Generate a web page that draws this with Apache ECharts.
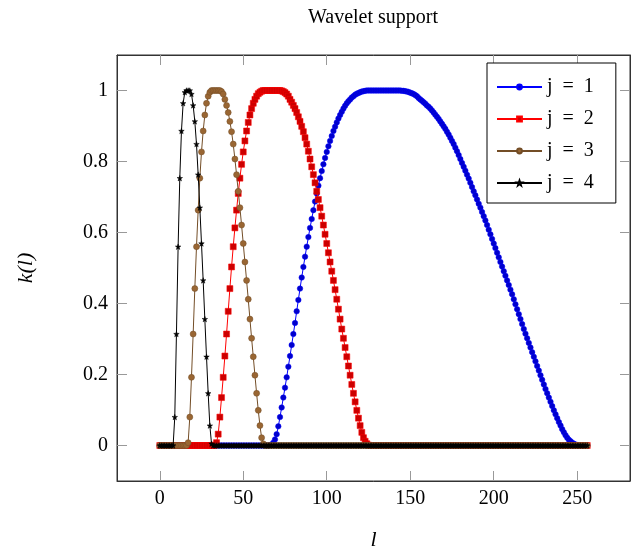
<!DOCTYPE html>
<html>
<head>
<meta charset="utf-8">
<script src="https://cdn.jsdelivr.net/npm/echarts@6/dist/echarts.min.js"></script>
<style>
  html, body { margin: 0; padding: 0; background: #fff; }
  #chart { width: 642px; height: 548px; }
</style>
</head>
<body>
<div id="chart"></div>
<script>
// k(l) for l = 0 .. 256 (array index is l)
var k1 = [
  0,0,0,0,0,0,0,0,0,0,0,0,0,0,0,0,
  0,0,0,0,0,0,0,0,0,0,0,0,0,0,0,0,
  0,0,0,0,0,0,0,0,0,0,0,0,0,0,0,0,
  0,0,0,0,0,0,0,0,0,0,0,0,0,0,0,0,
  0,0,0.001,0.003,0.008,0.017,0.032,0.054,0.08,0.107,
  0.135,0.163,0.192,0.222,0.252,0.283,0.314,0.345,0.378,0.41,
  0.442,0.473,0.503,0.532,0.56,0.587,0.613,0.638,0.663,0.687,
  0.71,0.732,0.753,0.773,0.792,0.81,0.827,0.843,0.858,0.872,
  0.886,0.898,0.91,0.921,0.931,0.94,0.949,0.957,0.964,0.97,
  0.975,0.98,0.984,0.988,0.991,0.993,0.995,0.997,0.998,0.999,
  1,1,1,1,1,1,1,1,1,1,1,1,1,1,1,1,1,1,1,1,1,
  0.999,0.999,0.998,0.997,0.996,0.994,0.992,0.99,0.987,0.984,
  0.979,0.975,0.971,0.967,0.963,0.958,0.954,0.949,0.944,0.938,
  0.932,0.926,0.92,0.913,0.906,0.899,0.892,0.884,0.876,0.867,
  0.858,0.849,0.839,0.829,0.818,0.807,0.796,0.785,0.774,0.763,
  0.752,0.74,0.728,0.716,0.705,0.693,0.681,0.67,0.658,0.646,
  0.634,0.621,0.608,0.595,0.582,0.569,0.556,0.543,0.53,0.517,
  0.504,0.491,0.478,0.465,0.452,0.439,0.426,0.412,0.398,0.384,
  0.37,0.356,0.342,0.328,0.315,0.302,0.289,0.276,0.263,0.25,
  0.237,0.224,0.211,0.198,0.185,0.172,0.159,0.147,0.135,0.123,
  0.111,0.099,0.088,0.077,0.066,0.056,0.046,0.037,0.029,0.022,
  0.016,0.012,0.008,0.005,0.003,0.001,
  0,0,0,0,0,0
];
var k2 = [
  0,0,0,0,0,0,0,0,0,0,0,0,0,0,0,0,
  0,0,0,0,0,0,0,0,0,0,0,0,0,0,0,0,
  0,0.001,0.008,0.032,0.08,0.135,0.192,0.252,0.314,0.378,
  0.442,0.503,0.56,0.613,0.663,0.71,0.753,0.792,0.827,0.858,
  0.886,0.91,0.931,0.949,0.964,0.975,0.984,0.991,0.995,0.998,
  1,1,1,1,1,1,1,1,1,1,1,
  0.999,0.997,0.994,0.99,0.984,0.975,0.967,0.958,0.949,0.938,
  0.926,0.913,0.899,0.884,0.867,0.849,0.829,0.807,0.785,0.763,
  0.74,0.716,0.693,0.67,0.646,0.621,0.595,0.569,0.543,0.517,
  0.491,0.465,0.439,0.412,0.384,0.356,0.328,0.302,0.276,0.25,
  0.224,0.198,0.172,0.147,0.123,0.099,0.077,0.056,0.037,0.022,
  0.012,0.005,0.001,
  0,0,0,0,0,0,0,0,0,0,0,0,0,0,0,0,
  0,0,0,0,0,0,0,0,0,0,0,0,0,0,0,0,
  0,0,0,0,0,0,0,0,0,0,0,0,0,0,0,0,
  0,0,0,0,0,0,0,0,0,0,0,0,0,0,0,0,
  0,0,0,0,0,0,0,0,0,0,0,0,0,0,0,0,
  0,0,0,0,0,0,0,0,0,0,0,0,0,0,0,0,
  0,0,0,0,0,0,0,0,0,0,0,0,0,0,0,0,
  0,0,0,0,0,0,0,0,0,0,0,0,0,0,0,0,
  0,0,0
];
var k3 = [
  0,0,0,0,0,0,0,0,0,0,0,0,0,0,0,0,
  0,0.008,0.08,0.192,0.314,0.442,0.56,0.663,0.753,0.827,
  0.886,0.931,0.964,0.984,0.995,1,1,1,1,1,
  1,0.997,0.99,0.975,0.958,0.938,0.913,0.884,0.849,0.807,
  0.763,0.716,0.67,0.621,0.569,0.517,0.465,0.412,0.356,0.302,
  0.25,0.198,0.147,0.099,0.056,0.022,0.005,
  0,0,0,0,0,0,0,0,0,0,0,0,0,0,0,0,
  0,0,0,0,0,0,0,0,0,0,0,0,0,0,0,0,
  0,0,0,0,0,0,0,0,0,0,0,0,0,0,0,0,
  0,0,0,0,0,0,0,0,0,0,0,0,0,0,0,0,
  0,0,0,0,0,0,0,0,0,0,0,0,0,0,0,0,
  0,0,0,0,0,0,0,0,0,0,0,0,0,0,0,0,
  0,0,0,0,0,0,0,0,0,0,0,0,0,0,0,0,
  0,0,0,0,0,0,0,0,0,0,0,0,0,0,0,0,
  0,0,0,0,0,0,0,0,0,0,0,0,0,0,0,0,
  0,0,0,0,0,0,0,0,0,0,0,0,0,0,0,0,
  0,0,0,0,0,0,0,0,0,0,0,0,0,0,0,0,
  0,0,0,0,0,0,0,0,0,0,0,0,0,0,0,0,
  0,0
];
var k4 = [
  0,0,0,0,0,0,0,0,0,
  0.08,0.314,0.56,0.753,0.886,0.964,0.995,1,1,1,
  0.99,0.958,0.913,0.849,0.763,0.67,0.569,0.465,0.356,0.25,
  0.147,0.056,0.005,
  0,0,0,0,0,0,0,0,0,0,0,0,0,0,0,0,
  0,0,0,0,0,0,0,0,0,0,0,0,0,0,0,0,
  0,0,0,0,0,0,0,0,0,0,0,0,0,0,0,0,
  0,0,0,0,0,0,0,0,0,0,0,0,0,0,0,0,
  0,0,0,0,0,0,0,0,0,0,0,0,0,0,0,0,
  0,0,0,0,0,0,0,0,0,0,0,0,0,0,0,0,
  0,0,0,0,0,0,0,0,0,0,0,0,0,0,0,0,
  0,0,0,0,0,0,0,0,0,0,0,0,0,0,0,0,
  0,0,0,0,0,0,0,0,0,0,0,0,0,0,0,0,
  0,0,0,0,0,0,0,0,0,0,0,0,0,0,0,0,
  0,0,0,0,0,0,0,0,0,0,0,0,0,0,0,0,
  0,0,0,0,0,0,0,0,0,0,0,0,0,0,0,0,
  0,0,0,0,0,0,0,0,0,0,0,0,0,0,0,0,
  0,0,0,0,0,0,0,0,0,0,0,0,0,0,0,0,
  0
];
var names = ["j = 1", "j = 2", "j = 3", "j = 4"];
var xTicks = [0, 50, 100, 150, 200, 250];
var yTicks = [0, 0.2, 0.4, 0.6, 0.8, 1];

var serif = "Liberation Serif";
var star = "path://M0,-10L2.35,-3.24L9.51,-3.09L3.8,1.24L5.88,8.09L0,4L-5.88,8.09L-3.8,1.24L-9.51,-3.09L-2.35,-3.24Z";

function pairs(arr) {
  return arr.map(function (v, i) { return [i, v]; });
}

var styles = [
  { line: "#0000ff", fill: "#0000cc", symbol: "circle", size: 5.5 },
  { line: "#ff0000", fill: "#cc0000", symbol: "rect", size: 6 },
  { line: "#734d26", fill: "#996633", symbol: "circle", size: 6 },
  { line: "#000000", fill: "#000000", symbol: star, size: 5.5 }
];
var values = [k1, k2, k3, k4];

var tickStyle = { show: true, inside: true, length: 10, lineStyle: { color: "#999", width: 1 } };
var edge = { show: true, onZero: false, lineStyle: { color: "#333", width: 1 } };

var chart = echarts.init(document.getElementById("chart"));
chart.setOption({
  animation: false,
  graphic: [{
    type: "text", x: 373, y: 8,
    style: { text: "Wavelet support", font: "20px " + serif, fill: "#000", textAlign: "center" }
  }],
  legend: {
    data: names,
    orient: "vertical",
    left: 487, top: 63,
    padding: [14, 22, 10, 9],
    itemWidth: 45, itemHeight: 6, itemGap: 12,
    borderColor: "#000", borderWidth: 1, backgroundColor: "#fff",
    textStyle: { fontFamily: serif, fontSize: 20, color: "#000" },
    formatter: function (n) { return n.replace(/ /g, "\u2002"); }
  },
  grid: {
    left: 117, right: 12, top: 55, bottom: 67,
    outerBoundsMode: "none", containLabel: false,
    show: true, borderColor: "#333", borderWidth: 1
  },
  xAxis: [{
    type: "value", min: -25.6, max: 281.6,
    name: "l", nameLocation: "middle", nameGap: 48,
    nameTextStyle: { fontFamily: serif, fontStyle: "italic", fontSize: 22, color: "#000" },
    axisLine: edge,
    axisTick: Object.assign({ customValues: xTicks }, tickStyle),
    axisLabel: { customValues: xTicks, margin: 8, fontFamily: serif, fontSize: 20, color: "#000" },
    splitLine: { show: false }
  }, {
    type: "value", min: -25.6, max: 281.6, position: "top",
    axisLine: edge,
    axisTick: Object.assign({ customValues: xTicks }, tickStyle),
    axisLabel: { show: false }, splitLine: { show: false }
  }],
  yAxis: [{
    type: "value", min: -0.1, max: 1.1,
    name: "k(l)", nameLocation: "middle", nameGap: 80, nameRotate: 90,
    nameTextStyle: { fontFamily: serif, fontStyle: "italic", fontSize: 22, color: "#000" },
    axisLine: edge,
    axisTick: Object.assign({ customValues: yTicks }, tickStyle),
    axisLabel: { customValues: yTicks, margin: 9, fontFamily: serif, fontSize: 20, color: "#000" },
    splitLine: { show: false }
  }, {
    type: "value", min: -0.1, max: 1.1, position: "right",
    axisLine: edge,
    axisTick: Object.assign({ customValues: yTicks }, tickStyle),
    axisLabel: { show: false }, splitLine: { show: false }
  }],
  series: values.map(function (arr, i) {
    var s = styles[i];
    return {
      name: names[i], type: "line", data: pairs(arr),
      xAxisIndex: 0, yAxisIndex: 0,
      symbol: s.symbol, symbolSize: s.size, showAllSymbol: true,
      lineStyle: { color: s.line, width: 1 },
      itemStyle: { color: s.fill, borderColor: s.line, borderWidth: 0.5, opacity: 1 },
      emphasis: { disabled: true },
      z: 2 + i
    };
  })
});
</script>
</body>
</html>
